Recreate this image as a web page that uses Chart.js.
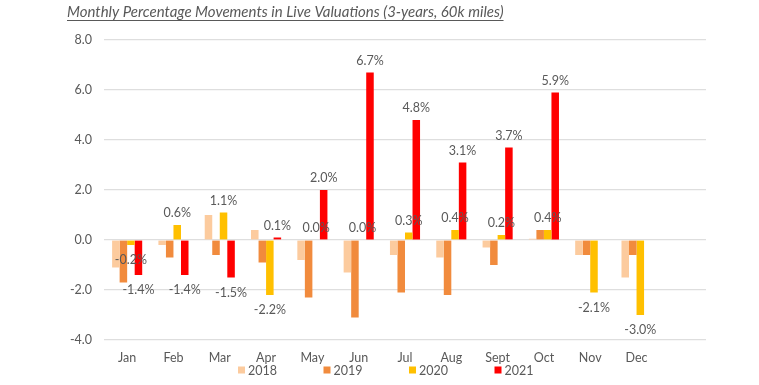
<!DOCTYPE html>
<html>
<head>
<meta charset="utf-8">
<script src="https://cdn.jsdelivr.net/npm/chart.js@4.4.0/dist/chart.umd.min.js"></script>
<style>
  html, body { margin: 0; padding: 0; background: #fff; }
  #wrap { width: 759px; height: 385px; position: relative; }
</style>
</head>
<body>
<div id="wrap"><canvas id="chart" width="759" height="385"></canvas></div>
<script>
// months (last slot left empty, like the original sheet)
const months = ['Jan', 'Feb', 'Mar', 'Apr', 'May', 'Jun', 'Jul', 'Aug', 'Sept', 'Oct', 'Nov', 'Dec', ''];
const years = ['2018', '2019', '2020', '2021'];

const vals2018 = [-1.1, -0.2, 1.0, 0.4, -0.8, -1.3, -0.6, -0.7, -0.3, 0.05, -0.6, -1.5, null];
const vals2019 = [-1.7, -0.7, -0.6, -0.9, -2.3, -3.1, -2.1, -2.2, -1.0, 0.4, -0.6, -0.6, null];
const vals2020 = [-0.2, 0.6, 1.1, -2.2, 0.0, 0.0, 0.3, 0.4, 0.2, 0.4, -2.1, -3.0, null];
const vals2021 = [-1.4, -1.4, -1.5, 0.1, 2.0, 6.7, 4.8, 3.1, 3.7, 5.9, null, null, null];

const yTicks = [-4, -2, 0, 2, 4, 6, 8];

const colours = ['#fccb9e', '#f18b3d', '#ffc000', '#ff0000'];
const textGrey = '#595959';
const fontFam = 'Lato, "Open Sans", sans-serif';

const titleText = 'Monthly Percentage Movements in Live Valuations (3-years, 60k miles)';

// labels only drawn for 2020 and 2021
const labelledSeries = [2, 3];

const extras = {
  id: 'extras',
  afterDraw(chart) {
    const ctx = chart.ctx;
    ctx.save();

    // title, italic + underlined
    ctx.font = 'italic 15px ' + fontFam;
    ctx.fillStyle = textGrey;
    ctx.textAlign = 'left';
    ctx.textBaseline = 'middle';
    ctx.fillText(titleText, 67, 12);
    const tw = ctx.measureText(titleText).width;
    ctx.strokeStyle = textGrey;
    ctx.lineWidth = 1;
    ctx.beginPath();
    ctx.moveTo(67, 20.5);
    ctx.lineTo(67 + tw, 20.5);
    ctx.stroke();

    // value labels
    ctx.font = '12.5px ' + fontFam;
    ctx.textAlign = 'center';
    labelledSeries.forEach(i => {
      const meta = chart.getDatasetMeta(i);
      const data = chart.data.datasets[i].data;
      meta.data.forEach((bar, j) => {
        const v = data[j];
        if (v === null || v === undefined) return;
        const y = v >= 0 ? bar.y - 12 : bar.y + 15;
        ctx.fillText(v.toFixed(1) + '%', bar.x, y);
      });
    });

    // legend
    ctx.font = '12.5px ' + fontFam;
    ctx.textAlign = 'left';
    let x = 238;
    years.forEach((yr, i) => {
      ctx.fillStyle = colours[i];
      ctx.fillRect(x, 366.5, 7, 7);
      ctx.fillStyle = textGrey;
      ctx.fillText(yr, x + 10, 370.5);
      x += 85.5;
    });
    ctx.restore();
  }
};

const ctx = document.getElementById('chart').getContext('2d');
new Chart(ctx, {
  type: 'bar',
  data: {
    labels: months,
    datasets: [
      { label: years[0], data: vals2018, backgroundColor: colours[0] },
      { label: years[1], data: vals2019, backgroundColor: colours[1] },
      { label: years[2], data: vals2020, backgroundColor: colours[2] },
      { label: years[3], data: vals2021, backgroundColor: colours[3] },
    ],
  },
  options: {
    responsive: false,
    animation: false,
    barPercentage: 1,
    categoryPercentage: 0.65,
    layout: {
      padding: { top: 40, right: 53, left: 0, bottom: 0 }
    },
    plugins: {
      legend: { display: false },
      title: { display: false },
      tooltip: { enabled: false },
    },
    scales: {
      x: {
        grid: { display: false },
        border: { display: false },
        ticks: {
          color: textGrey,
          font: { family: fontFam, size: 12.5 },
          padding: 2,
          maxRotation: 0,
          autoSkip: false,
        },
        afterFit(scale) { scale.height = 45; },
      },
      y: {
        min: -4,
        max: 8,
        afterBuildTicks(scale) { scale.ticks = yTicks.map(v => ({ value: v })); },
        grid: { color: '#dedede', lineWidth: 1.2, drawTicks: false },
        border: { display: false },
        ticks: {
          color: textGrey,
          font: { family: fontFam, size: 12.5 },
          padding: 12,
          callback: v => v.toFixed(1),
        },
        afterFit(scale) { scale.width = 104; },
      },
    },
  },
  plugins: [extras],
});
</script>
</body>
</html>
